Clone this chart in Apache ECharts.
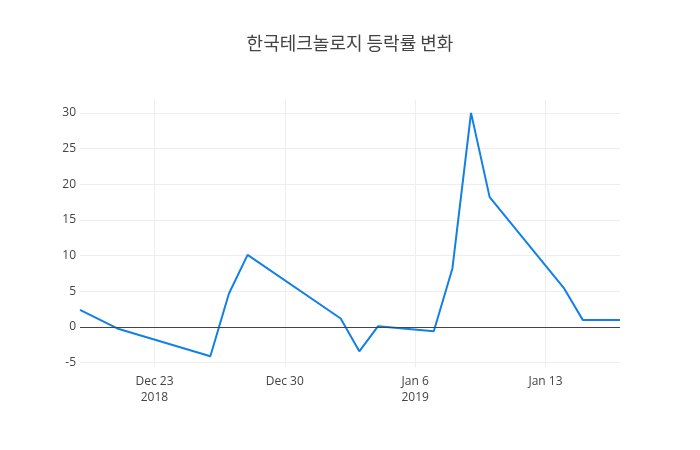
<!DOCTYPE html>
<html>
<head>
<meta charset="utf-8">
<script src="https://cdn.jsdelivr.net/npm/echarts@6/dist/echarts.min.js"></script>
<style>
  html, body { margin: 0; padding: 0; background: #fff; }
  #chart { width: 700px; height: 450px; }
</style>
</head>
<body>
<div id="chart"></div>
<script>
// 한국테크놀로지 daily change (%)
const dates = [
  '2018-12-19', '2018-12-21', '2018-12-26', '2018-12-27', '2018-12-28',
  '2019-01-02', '2019-01-03', '2019-01-04', '2019-01-07', '2019-01-08',
  '2019-01-09', '2019-01-10', '2019-01-14', '2019-01-15', '2019-01-16',
  '2019-01-17'
];
const changes = [
  2.4, -0.2, -4.1, 4.7, 10.1,
  1.2, -3.4, 0.1, -0.6, 8.2,
  30.0, 18.2, 5.4, 1.0, 1.0,
  1.0
];
const yTicks = [-5, 0, 5, 10, 15, 20, 25, 30];
const xTicks = ['2018-12-23', '2018-12-30', '2019-01-06', '2019-01-13'];
const xTickLabels = ['Dec 23\n2018', 'Dec 30', 'Jan 6\n2019', 'Jan 13'];

const toTime = s => new Date(s + 'T00:00:00').getTime();
const xTickTimes = xTicks.map(toTime);

const chart = echarts.init(document.getElementById('chart'));

const option = {
  animation: false,
  textStyle: { fontFamily: '"Open Sans", "Noto Sans CJK KR", sans-serif' },
  title: {
    text: '한국테크놀로지 등락률 변화',
    left: 'center',
    top: 29,
    textStyle: {
      fontFamily: '"Noto Sans CJK KR", sans-serif',
      fontSize: 18,
      fontWeight: 'normal',
      color: '#444'
    }
  },
  grid: { left: 80, right: 80, top: 100, bottom: 83 },
  xAxis: {
    type: 'value',
    min: toTime('2018-12-19'),
    max: toTime('2019-01-17'),
    axisLine: { show: false },
    axisTick: { show: false, customValues: xTickTimes },
    axisLabel: {
      customValues: xTickTimes,
      color: '#444',
      fontSize: 12,
      margin: 7,
      lineHeight: 16,
      formatter: v => {
        const i = xTickTimes.indexOf(v);
        return i >= 0 ? xTickLabels[i] : '';
      }
    },
    splitLine: { show: true, lineStyle: { color: '#eee', width: 1 } }
  },
  yAxis: {
    type: 'value',
    min: -5.6,
    max: 31.8,
    axisLine: { show: false },
    axisTick: { show: false, customValues: yTicks },
    axisLabel: {
      customValues: yTicks,
      color: '#444',
      fontSize: 12,
      margin: 4
    },
    splitLine: { show: true, lineStyle: { color: '#eee', width: 1 } }
  },
  series: [
    {
      type: 'line',
      data: dates.map((d, i) => [toTime(d), changes[i]]),
      symbol: 'none',
      lineStyle: { color: '#1280e6', width: 2 },
      markLine: {
        silent: true,
        symbol: 'none',
        label: { show: false },
        lineStyle: { color: '#444', width: 1, type: 'solid' },
        data: [{ yAxis: 0 }]
      }
    }
  ]
};

chart.setOption(option);
</script>
</body>
</html>
